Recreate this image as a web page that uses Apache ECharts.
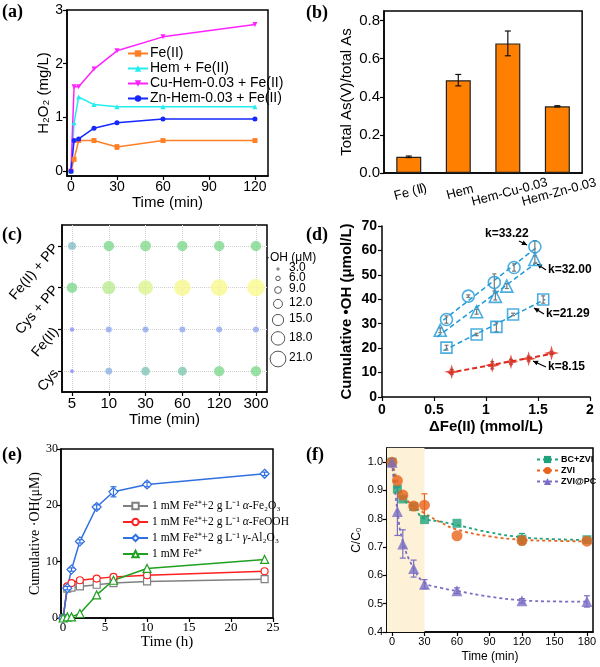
<!DOCTYPE html>
<html lang="en">
<head>
<meta charset="UTF-8">
<title>Panels a-f</title>
<style>
  body { margin: 0; background: #fff; }
  .panel { position: absolute; left: 0; top: 0; width: 600px; height: 667px; }
</style>
</head>
<body>
<div id="pa" class="panel"></div>
<div id="pb" class="panel"></div>
<div id="pc" class="panel"></div>
<div id="pd" class="panel"></div>
<div id="pe" class="panel"></div>
<div id="pf" class="panel"></div>

<script src="https://cdn.jsdelivr.net/npm/echarts@6.0.0/dist/echarts.min.js"></script>
<script>
// ---------------- data ----------------
// (a) H2O2 vs time
var aTime = [0, 2, 5, 15, 30, 60, 120];
var aFe = [0, 0.22, 0.57, 0.57, 0.45, 0.57, 0.57];
var aHem = [0, 0.9, 1.38, 1.24, 1.2, 1.2, 1.2];
var aCu = [0, 1.57, 1.57, 1.9, 2.24, 2.5, 2.73];
var aZn = [0, 0.57, 0.6, 0.8, 0.9, 0.97, 0.97];
var aFeErr = [0, 0, 0, 0.02, 0.04, 0, 0.01];

// (b) As(V) fraction
var bNames = ['Fe (Ⅱ)', 'Hem', 'Hem-Cu-0.03', 'Hem-Zn-0.03'];
var bValues = [0.085, 0.487, 0.68, 0.35];
var bErr = [0.004, 0.03, 0.065, 0.003];

// (c) bubble matrix, OH in uM
var cTimes = ['5', '10', '30', '60', '120', '300'];
var cRows = ['Cys', 'Fe(II)', 'Cys + PP', 'Fe(II) + PP'];
var cCys = [5, 9, 11.5, 12, 14, 14];
var cFe = [6, 8, 8, 8, 8, 8];
var cCysPP = [14, 17.5, 19.5, 22, 22.5, 23.5];
var cFePP = [10.5, 14, 14.5, 14, 14, 14];
var cLegend = [3, 6, 9, 12, 15, 18, 21];

// (d) cumulative OH vs dFe(II)
var dCircX = [0.62, 0.83, 1.08, 1.27, 1.47];
var dCircY = [31.7, 41.3, 46.9, 53.0, 61.5];
var dCircErr = [1.5, 0.5, 3.5, 1.5, 2.5];
var dTriX = [0.56, 0.91, 1.09, 1.2, 1.47];
var dTriY = [27.3, 34.9, 41.2, 45.4, 56.3];
var dTriErr = [1, 1, 1.5, 1, 1.5];
var dSqX = [0.62, 0.91, 1.1, 1.26, 1.55];
var dSqY = [20.2, 25.6, 28.7, 33.8, 39.9];
var dSqErr = [1, 0.5, 2, 0.5, 1.5];
var dStarX = [0.67, 1.06, 1.24, 1.41, 1.63];
var dStarY = [10.3, 13.0, 14.4, 15.7, 18.0];
var dStarErr = [1, 1.5, 1, 1, 0.5];
var dK = ['k=33.22', 'k=32.00', 'k=21.29', 'k=8.15'];

// (e) cumulative OH vs time (h)
var eTime = [0, 0.5, 1, 2, 4, 6, 10, 24];
var eFe2O3 = [0, 5.2, 5.4, 5.6, 5.9, 6.2, 6.5, 6.9];
var eFeOOH = [0, 5.6, 6.2, 6.7, 7.0, 7.3, 7.6, 8.3];
var eAl2O3 = [0, 5.3, 8.6, 13.6, 19.7, 22.4, 23.7, 25.6];
var eFe = [0, 0.2, 0.2, 0.8, 4.1, 6.7, 8.8, 10.4];
var eAlErr = [0, 0.3, 0.3, 0.3, 0.4, 0.9, 0.4, 0.3];

// (f) C/C0 vs time
var fTime = [0, 5, 10, 20, 30, 60, 120, 180];
var fBC = [1.0, 0.905, 0.87, 0.843, 0.797, 0.784, 0.728, 0.726];
var fZVI = [1.0, 0.935, 0.884, 0.845, 0.848, 0.74, 0.723, 0.721];
var fPC = [1.0, 0.826, 0.711, 0.624, 0.569, 0.546, 0.51, 0.508];
var fPCErr = [0, 0.085, 0.05, 0.03, 0.016, 0.01, 0.008, 0.02];
var fZVIErr = [0, 0, 0, 0, 0.04, 0, 0.01, 0];
var fBCErr = [0, 0, 0, 0, 0, 0, 0.02, 0];
// dotted guide curves
var fFitX = [0, 5, 10, 20, 30, 45, 60, 90, 120, 150, 180];
var fBCFit = [1.0, 0.905, 0.87, 0.84, 0.8, 0.79, 0.778, 0.752, 0.735, 0.728, 0.725];
var fZVIFit = [1.0, 0.935, 0.885, 0.845, 0.82, 0.787, 0.762, 0.738, 0.726, 0.722, 0.72];
var fPCFit = [1.0, 0.83, 0.72, 0.625, 0.575, 0.556, 0.545, 0.525, 0.512, 0.508, 0.507];

// ---------------- helpers ----------------
var SANS = 'Arial, "Liberation Sans", sans-serif';
var SERIF = '"Times New Roman", "Liberation Serif", serif';

function pts(xs, ys) {
  return xs.map(function (x, i) { return [x, ys[i]]; });
}

function makeAxis(o) {
  var lbl = { color: '#000', fontFamily: o.font, fontSize: o.size, fontWeight: o.weight || 'normal', margin: o.margin || 4 };
  var tick = { show: true, length: 4, inside: !!o.inside, lineStyle: { color: '#000', width: 1.2 } };
  if (o.ticks) { lbl.customValues = o.ticks; tick.customValues = o.ticks; }
  if (o.fmt) lbl.formatter = o.fmt;
  if (o.rotate) lbl.rotate = o.rotate;
  return {
    type: 'value', min: o.min, max: o.max, interval: o.interval,
    name: o.name, nameLocation: 'middle', nameGap: o.gap,
    nameTextStyle: { color: '#000', fontFamily: o.font, fontSize: o.nameSize || o.size + 1, fontWeight: o.weight || 'normal' },
    axisLine: { show: true, onZero: false, lineStyle: { color: '#000', width: 1.5 } },
    axisTick: tick,
    axisLabel: lbl,
    splitLine: { show: !!o.split, lineStyle: { color: '#d0d0d0', type: 'dotted', width: 1 } }
  };
}

function errBars(xs, ys, errs, color, cap) {
  var d = [];
  xs.forEach(function (x, i) { if (errs[i] > 0) d.push([x, ys[i] - errs[i], ys[i] + errs[i]]); });
  return {
    type: 'custom', silent: true, z: 4,
    encode: { x: 0, y: [1, 2] },
    data: d,
    renderItem: function (params, api) {
      var lo = api.coord([api.value(0), api.value(1)]);
      var hi = api.coord([api.value(0), api.value(2)]);
      var st = { stroke: color, lineWidth: 1.2 };
      return {
        type: 'group', children: [
          { type: 'line', shape: { x1: lo[0], y1: lo[1], x2: hi[0], y2: hi[1] }, style: st },
          { type: 'line', shape: { x1: lo[0] - cap, y1: lo[1], x2: lo[0] + cap, y2: lo[1] }, style: st },
          { type: 'line', shape: { x1: hi[0] - cap, y1: hi[1], x2: hi[0] + cap, y2: hi[1] }, style: st }
        ]
      };
    }
  };
}

function panelLabel(text, x, y) {
  return { type: 'text', left: x, top: y, style: { text: text, fontFamily: SERIF, fontWeight: 'bold', fontSize: 18, fill: '#000' } };
}

function arrow(x1, y1, x2, y2, color, both) {
  var h = 5, w = 2.5;
  function head(px, py, a) {
    return {
      type: 'polygon', style: { fill: color },
      shape: { points: [[px, py],
        [px - h * Math.cos(a) + w * Math.sin(a), py - h * Math.sin(a) - w * Math.cos(a)],
        [px - h * Math.cos(a) - w * Math.sin(a), py - h * Math.sin(a) + w * Math.cos(a)]] }
    };
  }
  var a = Math.atan2(y2 - y1, x2 - x1);
  var kids = [{ type: 'line', shape: { x1: x1, y1: y1, x2: x2, y2: y2 }, style: { stroke: color, lineWidth: 1.2 } }, head(x2, y2, a)];
  if (both) kids.push(head(x1, y1, a + Math.PI));
  return { type: 'group', children: kids };
}

function fitLine(xs, ys) {
  var n = xs.length, sx = 0, sy = 0, sxx = 0, sxy = 0;
  for (var i = 0; i < n; i++) { sx += xs[i]; sy += ys[i]; sxx += xs[i] * xs[i]; sxy += xs[i] * ys[i]; }
  var k = (n * sxy - sx * sy) / (n * sxx - sx * sx), b = (sy - k * sx) / n;
  var x0 = Math.min.apply(null, xs) - 0.03, x1 = Math.max.apply(null, xs) + 0.02;
  return [[x0, k * x0 + b], [x1, k * x1 + b]];
}

// ---------------- (a) ----------------
var chA = echarts.init(document.getElementById('pa'));
function aLine(name, ys, color, symbol, extra) {
  return Object.assign({
    name: name, type: 'line', data: pts(aTime, ys), symbol: symbol, symbolSize: 5,
    itemStyle: { color: color }, lineStyle: { color: color, width: 1.5 }, z: 3
  }, extra || {});
}
chA.setOption({
  animation: false,
  graphic: [panelLabel('(a)', 2, 3)],
  grid: { left: 67, top: 10, width: 201, height: 166, show: true, borderColor: '#000', borderWidth: 1.5 },
  legend: {
    data: ['Fe(II)', 'Hem + Fe(II)', 'Cu-Hem-0.03 + Fe(II)', 'Zn-Hem-0.03 + Fe(II)'],
    orient: 'vertical', left: 122, top: 41, itemWidth: 20, itemHeight: 8, itemGap: 0,
    textStyle: { fontFamily: SANS, fontSize: 14, lineHeight: 15, color: '#000', padding: [0, 0, 0, -3] }
  },
  xAxis: makeAxis({ min: -2.6, max: 128.5, ticks: [0, 30, 60, 90, 120], font: SANS, size: 14, name: 'Time (min)', gap: 17, nameSize: 15 }),
  yAxis: makeAxis({ min: -0.09, max: 3, ticks: [0, 1, 2, 3], font: SANS, size: 14, name: 'H₂O₂ (mg/L)', gap: 14, nameSize: 15 }),
  series: [
    aLine('Fe(II)', aFe, '#ff7f27', 'rect'),
    aLine('Hem + Fe(II)', aHem, '#22eeee', 'triangle'),
    aLine('Cu-Hem-0.03 + Fe(II)', aCu, '#ff22ff', 'triangle', { symbolRotate: 180 }),
    aLine('Zn-Hem-0.03 + Fe(II)', aZn, '#1428ff', 'circle'),
    errBars(aTime, aFe, aFeErr, '#ff7f27', 2)
  ]
});

// ---------------- (b) ----------------
var chB = echarts.init(document.getElementById('pb'));
chB.setOption({
  animation: false,
  graphic: [panelLabel('(b)', 306, 4)],
  grid: { left: 384, top: 11, width: 203, height: 162, show: true, borderColor: '#000', borderWidth: 1.5 },
  xAxis: {
    type: 'category', data: bNames,
    axisLine: { lineStyle: { color: '#000', width: 1.5 } },
    axisTick: { show: false },
    axisLabel: { color: '#000', fontFamily: SANS, fontSize: 13, rotate: 15, align: 'center', verticalAlign: 'top', margin: 13, interval: 0 }
  },
  yAxis: makeAxis({ min: 0, max: 0.85, ticks: [0, 0.2, 0.4, 0.6, 0.8], fmt: function (v) { return v.toFixed(1); }, font: SANS, size: 15, name: 'Total As(V)/total As', gap: 30, nameSize: 15 }),
  series: [
    { type: 'bar', data: bValues, barWidth: 25, itemStyle: { color: '#ff8000', borderColor: '#222', borderWidth: 1.2 } },
    errBars([0, 1, 2, 3], bValues, bErr, '#111', 3)
  ]
});

// ---------------- (c) ----------------
var chC = echarts.init(document.getElementById('pc'));
var cData = [];
[cCys, cFe, cCysPP, cFePP].forEach(function (row, r) {
  row.forEach(function (v, i) { cData.push([i, r, v]); });
});
var C_MAX = 24, C_DIAM = 18;
var cSize = function (v) { return v / C_MAX * C_DIAM; };
var cLeg = [{ type: 'text', left: 266, top: 252, style: { text: '·OH (μM)', fontFamily: SANS, fontSize: 12, fill: '#000' } }];
var cy = 269;
cLegend.forEach(function (v, i) {
  if (i > 0) cy += (cSize(cLegend[i - 1]) + cSize(v)) / 2 + 6;
  cLeg.push({ type: 'circle', shape: { cx: 278, cy: cy, r: cSize(v) / 2 }, style: { fill: 'rgba(255,255,255,0)', stroke: '#555', lineWidth: 1 } });
  cLeg.push({ type: 'text', left: 289, top: cy - 7, style: { text: v.toFixed(1), fontFamily: SANS, fontSize: 12, fill: '#000' } });
});
chC.setOption({
  animation: false,
  graphic: [panelLabel('(c)', 2, 226)].concat(cLeg),
  grid: { left: 62, top: 225, width: 205, height: 167, show: true, borderColor: '#000', borderWidth: 1.5 },
  xAxis: makeAxis({ min: -0.272, max: 5.3, ticks: [0, 1, 2, 3, 4, 5], fmt: function (v) { return cTimes[v]; }, font: SANS, size: 15, name: 'Time (min)', gap: 18, nameSize: 15, split: true }),
  yAxis: makeAxis({ min: -0.5, max: 3.5, ticks: [0, 1, 2, 3], fmt: function (v) { return cRows[v]; }, font: SANS, size: 14, rotate: 50, margin: 6, split: true }),
  visualMap: {
    show: false, type: 'continuous', dimension: 2, min: 0, max: C_MAX, seriesIndex: 0,
    inRange: {
      color: ['#8878ff', '#8878ff', '#8a80ff', '#8c90fa', '#90a6f0', '#88bcd0', '#7ec8b0', '#80d88e', '#98e08a', '#c4ee90', '#e2f68e', '#f8f88e', '#fafa90']
    }
  },
  series: [{
    type: 'scatter', data: cData, z: 3,
    symbolSize: function (d) { return cSize(d[2]); },
    itemStyle: { opacity: 0.8 }
  }]
});

// ---------------- (d) ----------------
var chD = echarts.init(document.getElementById('pd'));
var BLUE = '#1e9ad8', RED = '#e02a1c';
var star = 'path://M0,-10 L2.2,-2.2 L10,0 L2.2,2.2 L0,10 L-2.2,2.2 L-10,0 L-2.2,-2.2 Z';
function dScatter(xs, ys, symbol, size, color, filled) {
  return {
    type: 'scatter', data: pts(xs, ys), symbol: symbol, symbolSize: size, z: 5,
    itemStyle: filled ? { color: color } : { color: 'rgba(255,255,255,0)', borderColor: color, borderWidth: 1.6 }
  };
}
function dFit(xs, ys, color, width) {
  return { type: 'line', data: fitLine(xs, ys), symbol: 'none', z: 2, lineStyle: { color: color, width: width, type: [5, 3] } };
}
var kTxt = { fontFamily: SANS, fontSize: 12, fontWeight: 'bold', fill: '#000' };
chD.setOption({
  animation: false,
  graphic: [
    panelLabel('(d)', 306, 226),
    { type: 'text', left: 485, top: 228, style: Object.assign({ text: dK[0] }, kTxt) },
    { type: 'text', left: 548, top: 264, style: Object.assign({ text: dK[1] }, kTxt) },
    { type: 'text', left: 546, top: 308, style: Object.assign({ text: dK[2] }, kTxt) },
    { type: 'text', left: 548, top: 361, style: Object.assign({ text: dK[3] }, kTxt) },
    arrow(519, 241, 527, 245, '#000'),
    arrow(546, 270, 537, 264, '#000'),
    arrow(544, 314, 534, 308, '#000'),
    arrow(546, 367, 533, 361, '#000')
  ],
  grid: { left: 382, top: 226, width: 208, height: 171 },
  xAxis: makeAxis({ min: 0, max: 2, interval: 0.5, font: SANS, size: 14, weight: 'bold', name: 'ΔFe(II) (mmol/L)', gap: 22, nameSize: 15, margin: 6 }),
  yAxis: makeAxis({ min: 0, max: 70, interval: 10, font: SANS, size: 14, weight: 'bold', name: 'Cumulative •OH (μmol/L)', gap: 28, nameSize: 15, margin: 5 }),
  series: [
    dFit(dCircX, dCircY, BLUE, 1.5),
    dFit(dTriX, dTriY, BLUE, 1.5),
    dFit(dSqX, dSqY, BLUE, 1.5),
    dFit(dStarX, dStarY, RED, 2),
    errBars(dCircX, dCircY, dCircErr, '#777', 2),
    errBars(dTriX, dTriY, dTriErr, '#777', 2),
    errBars(dSqX, dSqY, dSqErr, '#777', 2),
    errBars(dStarX, dStarY, dStarErr, '#777', 2),
    dScatter(dCircX, dCircY, 'circle', 12, BLUE),
    dScatter(dTriX, dTriY, 'triangle', 12, BLUE),
    dScatter(dSqX, dSqY, 'rect', 11, BLUE),
    dScatter(dStarX, dStarY, star, 15, RED, true)
  ]
});

// ---------------- (e) ----------------
var chE = echarts.init(document.getElementById('pe'));
var eLabels = {
  'Fe2O3': '1 mM Fe²⁺+2 g L⁻¹ {i|α}-Fe₂O₃',
  'FeOOH': '1 mM Fe²⁺+2 g L⁻¹ {i|α}-FeOOH',
  'Al2O3': '1 mM Fe²⁺+2 g L⁻¹ {i|γ}-Al₂O₃',
  'Fe': '1 mM Fe²⁺'
};
function eLine(name, ys, color, symbol, size) {
  return {
    name: name, type: 'line', data: pts(eTime, ys), symbol: symbol, symbolSize: size, z: 3,
    itemStyle: { color: '#fff', borderColor: color, borderWidth: 1.2 },
    lineStyle: { color: color, width: 1.5 }
  };
}
chE.setOption({
  animation: false,
  graphic: [panelLabel('(e)', 2, 446)],
  grid: { left: 61, top: 449, width: 212, height: 169, show: true, borderColor: '#000', borderWidth: 1.5 },
  legend: {
    data: ['Fe2O3', 'FeOOH', 'Al2O3', 'Fe'],
    orient: 'vertical', left: 117, top: 495, itemWidth: 25, itemHeight: 8, itemGap: 4,
    formatter: function (n) { return eLabels[n]; },
    textStyle: { fontFamily: SERIF, fontSize: 11.5, color: '#000', padding: [0, 0, 0, -1], rich: { i: { fontFamily: SERIF, fontSize: 11.5, fontStyle: 'italic', color: '#000' } } }
  },
  xAxis: makeAxis({ min: -0.25, max: 25, ticks: [0, 5, 10, 15, 20, 25], font: SERIF, size: 13, name: 'Time (h)', gap: 13, nameSize: 15, margin: 3 }),
  yAxis: makeAxis({ min: 0, max: 30, interval: 10, font: SERIF, size: 12, name: 'Cumulative ·OH(μM)', gap: 13, nameSize: 14, margin: 3 }),
  series: [
    errBars(eTime, eAl2O3, eAlErr, '#3070e0', 3),
    eLine('Fe2O3', eFe2O3, '#808080', 'rect', 7),
    eLine('FeOOH', eFeOOH, '#ff2020', 'circle', 7),
    eLine('Al2O3', eAl2O3, '#3070e0', 'diamond', 9),
    eLine('Fe', eFe, '#20a020', 'triangle', 8)
  ]
});

// ---------------- (f) ----------------
var chF = echarts.init(document.getElementById('pf'));
var GRN = '#1fa37d', ORG = '#e8641c', PUR = '#7a6ec4';
function fFit(name, ys, color, symbol, extra) {
  return Object.assign({
    name: name, type: 'line', data: pts(fFitX, ys), smooth: true, showSymbol: false, symbol: symbol, symbolSize: 9, z: 2,
    itemStyle: { color: color }, lineStyle: { color: color, width: 1.8, type: [3, 3] }
  }, extra || {});
}
function fPts(ys, color, symbol, size) {
  return { type: 'scatter', data: pts(fTime, ys), symbol: symbol, symbolSize: size, itemStyle: { color: color }, z: 5 };
}
chF.setOption({
  animation: false,
  graphic: [
    panelLabel('(f)', 306, 446),
    arrow(389, 612, 423, 612, '#b07a7a', true),
    { type: 'text', left: 393, top: 614, style: { text: '30 min', fontFamily: SANS, fontSize: 10, fill: '#b07a7a' } }
  ],
  grid: { left: 387, top: 448, width: 206, height: 184, show: true, borderColor: '#000', borderWidth: 1.5 },
  legend: {
    data: ['BC+ZVI', 'ZVI', 'ZVI@PC'], orient: 'vertical', left: 531, top: 450,
    itemWidth: 21, itemHeight: 9, itemGap: 2,
    textStyle: { fontFamily: SANS, fontSize: 9, fontWeight: 'bold', color: '#000', padding: [0, 0, 0, -2] }
  },
  xAxis: makeAxis({ min: -4.6, max: 185.6, ticks: [0, 30, 60, 90, 120, 150, 180], font: SANS, size: 11, name: 'Time (min)', gap: 19, nameSize: 12 }),
  yAxis: makeAxis({ min: 0.4, max: 1.05, ticks: [0.4, 0.5, 0.6, 0.7, 0.8, 0.9, 1.0], fmt: function (v) { return v.toFixed(1); }, font: SANS, size: 11, name: 'C/C₀', gap: 24, nameSize: 12 }),
  series: [
    fFit('BC+ZVI', fBCFit, GRN, 'rect', {
      markArea: { silent: true, itemStyle: { color: '#fdf1d8' }, data: [[{ xAxis: -4.6 }, { xAxis: 30 }]] }
    }),
    fFit('ZVI', fZVIFit, ORG, 'circle'),
    fFit('ZVI@PC', fPCFit, PUR, 'triangle'),
    errBars(fTime, fPC, fPCErr, PUR, 3),
    errBars(fTime, fZVI, fZVIErr, ORG, 3),
    errBars(fTime, fBC, fBCErr, GRN, 3),
    fPts(fBC, GRN, 'rect', 9),
    fPts(fZVI, ORG, 'circle', 11),
    fPts(fPC, PUR, 'triangle', 11)
  ]
});
</script>
</body>
</html>
